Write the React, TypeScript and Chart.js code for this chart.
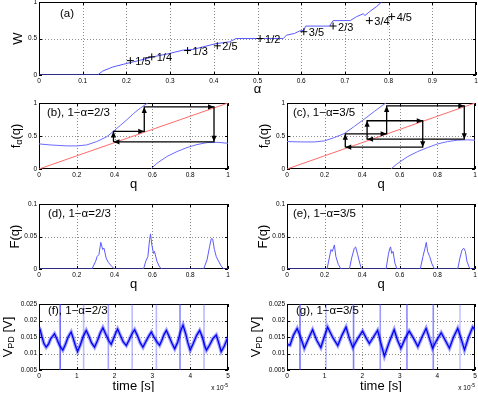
import React, { useEffect, useRef } from "react";
import { Chart, registerables } from "chart.js";
Chart.register(...registerables);

const FONT = "'Liberation Sans', Arial, Helvetica, sans-serif";

// ---------- (a) devil's staircase ----------
const alphaA = [0, 0.134, 0.146, 0.169, 0.199, 0.23, 0.26, 0.298, 0.329, 0.352, 0.375, 0.405, 0.436, 0.451, 0.559, 0.566, 0.585, 0.597, 0.606, 0.61, 0.665, 0.673, 0.712, 0.727, 0.742, 0.746, 0.757, 0.773, 0.784];
const wA = [0, 0, 0.055, 0.11, 0.156, 0.2, 0.248, 0.294, 0.34, 0.349, 0.385, 0.43, 0.454, 0.5, 0.5, 0.545, 0.57, 0.605, 0.61, 0.67, 0.67, 0.745, 0.745, 0.8, 0.838, 0.815, 0.87, 0.94, 1.0];
const fracAlpha = [0.209, 0.258, 0.34, 0.408, 0.506, 0.606, 0.673, 0.756, 0.807];
const fracW = [0.197, 0.248, 0.335, 0.4, 0.5, 0.593, 0.671, 0.745, 0.8];
const fracLabels = ["1/5", "1/4", "1/3", "2/5", "1/2", "3/5", "2/3", "3/4", "4/5"];
const ticksAx = [0, 0.1, 0.2, 0.3, 0.4, 0.5, 0.6, 0.7, 0.8, 0.9, 1];
const labelsAx = ["0", "0.1", "0.2", "0.3", "0.4", "0.5", "0.6", "0.7", "0.8", "0.9", "1"];
const ticksUnitY = [0, 0.5, 1];
const labelsUnitY = ["0", "0.5", "1"];

// ---------- (b) circle map, 1-a = 2/3 ----------
const qBleft = [0, 0.058, 0.147, 0.2, 0.253, 0.306, 0.359, 0.394, 0.43, 0.465, 0.5, 0.535, 0.575];
const fBleft = [0.38, 0.365, 0.35, 0.35, 0.365, 0.416, 0.49, 0.57, 0.66, 0.746, 0.84, 0.92, 1.0];
const qBright = [0.592, 0.624, 0.677, 0.73, 0.783, 0.836, 0.889, 0.942, 1.0];
const fBright = [0, 0.086, 0.19, 0.264, 0.325, 0.37, 0.4, 0.405, 0.39];
const cobBq = [0.394, 0.394, 0.557, 0.557, 0.926, 0.926, 0.394];
const cobBf = [0.411, 0.569, 0.569, 0.94, 0.94, 0.411, 0.411];

// ---------- (c) circle map, 1-a = 3/5 ----------
const qCleft = [0, 0.074, 0.145, 0.2, 0.252, 0.305, 0.358, 0.411, 0.465, 0.518, 0.527];
const fCleft = [0.416, 0.41, 0.41, 0.426, 0.477, 0.538, 0.645, 0.756, 0.873, 0.985, 1.0];
const qCright = [0.553, 0.589, 0.642, 0.695, 0.748, 0.801, 0.855, 0.908, 0.961, 1.0];
const fCright = [0, 0.086, 0.188, 0.264, 0.325, 0.38, 0.416, 0.437, 0.442, 0.437];
const cobCq = [0.31, 0.31, 0.53, 0.53, 0.943, 0.943, 0.426, 0.426, 0.722, 0.722, 0.31];
const cobCf = [0.33, 0.533, 0.533, 0.955, 0.955, 0.452, 0.452, 0.731, 0.731, 0.33, 0.33];
const diagQ = [0, 1];
const ticksQ = [0, 0.2, 0.4, 0.6, 0.8, 1];
const labelsQ = ["0", "0.2", "0.4", "0.6", "0.8", "1"];

// ---------- (d), (e) distributions ----------
const qD = [0, 0.28, 0.3, 0.307, 0.317, 0.327, 0.337, 0.344, 0.355, 0.367, 0.385, 0.4, 0.553, 0.565, 0.576, 0.585, 0.59, 0.597, 0.606, 0.611, 0.624, 0.638, 0.65, 0.871, 0.889, 0.903, 0.912, 0.919, 0.928, 0.938, 0.95, 0.963, 0.977, 1];
const FD = [0, 0, 0.012, 0.019, 0.022, 0.041, 0.03, 0.032, 0.017, 0.01, 0.004, 0, 0, 0.012, 0.019, 0.045, 0.054, 0.037, 0.024, 0.027, 0.012, 0.003, 0, 0, 0.014, 0.035, 0.047, 0.046, 0.03, 0.019, 0.012, 0.005, 0, 0];
const qE = [0, 0.213, 0.225, 0.234, 0.241, 0.252, 0.26, 0.273, 0.287, 0.332, 0.344, 0.358, 0.365, 0.376, 0.387, 0.397, 0.527, 0.539, 0.546, 0.551, 0.557, 0.564, 0.574, 0.585, 0.709, 0.723, 0.734, 0.741, 0.748, 0.759, 0.771, 0.784, 0.908, 0.92, 0.931, 0.94, 0.949, 0.957, 0.97, 0.979, 1];
const FE = [0, 0, 0.017, 0.03, 0.027, 0.037, 0.019, 0.007, 0, 0, 0.017, 0.032, 0.034, 0.022, 0.009, 0, 0, 0.022, 0.031, 0.034, 0.024, 0.027, 0.009, 0, 0, 0.019, 0.032, 0.041, 0.027, 0.019, 0.008, 0, 0, 0.017, 0.029, 0.032, 0.027, 0.012, 0.002, 0, 0];
const ticksF = [0, 0.05, 0.1];
const labelsF = ["0", "0.05", "0.1"];

// ---------- (f), (g) photodiode voltage (time in units of 1e-5 s) ----------
const tF = [0, 0.03, 0.08, 0.13, 0.19, 0.25, 0.31, 0.36, 0.41, 0.47, 0.54, 0.63, 0.7, 0.77, 0.85, 0.9, 0.96, 1.02, 1.09, 1.17, 1.25, 1.31, 1.39, 1.47, 1.55, 1.62, 1.69, 1.76, 1.84, 1.91, 1.98, 2.03, 2.08, 2.15, 2.23, 2.31, 2.38, 2.46, 2.53, 2.6, 2.68, 2.75, 2.82, 2.9, 2.97, 3.04, 3.12, 3.19, 3.25, 3.31, 3.37, 3.44, 3.52, 3.59, 3.67, 3.74, 3.81, 3.88, 3.94, 4.0, 4.08, 4.17, 4.25, 4.32, 4.38, 4.43, 4.51, 4.6, 4.69, 4.76, 4.82, 4.9, 5.0];
const vF = [0.018, 0.0172, 0.015, 0.013, 0.0119, 0.0128, 0.0145, 0.0152, 0.016, 0.0145, 0.0125, 0.011, 0.0128, 0.015, 0.0165, 0.0148, 0.0125, 0.0106, 0.0125, 0.0152, 0.017, 0.0155, 0.0132, 0.0119, 0.014, 0.0162, 0.0178, 0.016, 0.014, 0.0128, 0.0148, 0.0162, 0.0174, 0.0155, 0.0135, 0.0124, 0.014, 0.016, 0.0172, 0.0155, 0.0132, 0.0119, 0.0135, 0.0152, 0.0165, 0.015, 0.0135, 0.0125, 0.014, 0.0158, 0.017, 0.0152, 0.013, 0.0114, 0.0135, 0.0165, 0.0186, 0.016, 0.0132, 0.011, 0.013, 0.0155, 0.017, 0.015, 0.0125, 0.011, 0.0125, 0.0145, 0.0156, 0.013, 0.0106, 0.0122, 0.015];
const tG = [0, 0.08, 0.17, 0.27, 0.36, 0.46, 0.57, 0.68, 0.79, 0.9, 0.99, 1.08, 1.21, 1.35, 1.46, 1.57, 1.66, 1.75, 1.88, 2.01, 2.1, 2.19, 2.3, 2.41, 2.5, 2.59, 2.72, 2.85, 2.94, 3.03, 3.14, 3.25, 3.37, 3.48, 3.59, 3.7, 3.79, 3.87, 3.98, 4.1, 4.21, 4.32, 4.43, 4.54, 4.63, 4.72, 4.83, 4.94, 5.0];
const vG = [0.0128, 0.0125, 0.0155, 0.0176, 0.015, 0.0116, 0.0145, 0.0172, 0.014, 0.0118, 0.015, 0.018, 0.015, 0.0124, 0.0155, 0.018, 0.0145, 0.0118, 0.0145, 0.0168, 0.0148, 0.013, 0.015, 0.017, 0.013, 0.0092, 0.0135, 0.0172, 0.014, 0.0116, 0.0145, 0.0168, 0.0145, 0.0121, 0.015, 0.0176, 0.0145, 0.0116, 0.014, 0.0163, 0.014, 0.0116, 0.015, 0.0176, 0.0145, 0.0111, 0.015, 0.018, 0.0172];
const markF = [0.56, 1.18, 1.835, 2.465, 3.105, 3.73, 4.365];
const markG = [0.346, 1.04, 1.77, 2.48, 3.19, 3.89, 4.6];
const ticksT = [0, 1, 2, 3, 4, 5];
const labelsT = ["0", "1", "2", "3", "4", "5"];
const ticksV = [0.005, 0.01, 0.015, 0.02, 0.025];
const labelsV = ["0.005", "0.01", "0.015", "0.02", "0.025"];

// styles (not data)
const markAlphaF = [0.75, 0.35, 0.45, 0.35, 0.35, 0.6, 0.35];
const markAlphaG = [0.7, 0.3, 0.65, 0.5, 0.6, 0.6, 0.3];

const zip = (xs: number[], ys: number[]) => xs.map((x, i) => ({ x, y: ys[i] }));

type Geo = { l: number; t: number; r: number; b: number };
type Seg = { t: string; sub?: boolean };
type Spec = {
  geo: Geo;
  datasets: any[];
  x: [number, number];
  y: [number, number];
  xt: number[]; xl: string[]; yt: number[]; yl: string[];
  xTitle: string; xTitleDy: number;
  yTitle: Seg[]; yTitleDx: number;
  label: string; labelDx: number; labelDy: number;
  extra?: (chart: any) => void;
  exponent?: boolean;
};

const YW = 39, XH = 22, PT = 6, PR = 6;

const line = (data: any[], color: string, width = 1) => ({
  data, borderColor: color, borderWidth: width, pointRadius: 0, fill: false, tension: 0,
});

function drawArrows(chart: any, qs: number[], fs: number[]) {
  const { ctx, scales: { x, y } } = chart;
  ctx.save();
  ctx.fillStyle = "#000";
  for (let i = 0; i < qs.length - 1; i++) {
    const x0 = x.getPixelForValue(qs[i]), y0 = y.getPixelForValue(fs[i]);
    const x1 = x.getPixelForValue(qs[i + 1]), y1 = y.getPixelForValue(fs[i + 1]);
    const a = Math.atan2(y1 - y0, x1 - x0);
    const L = 6, W = 2.6;
    const c = Math.cos(a), s = Math.sin(a);
    ctx.beginPath();
    ctx.moveTo(x1, y1);
    ctx.lineTo(x1 - L * c + W * s, y1 - L * s - W * c);
    ctx.lineTo(x1 - L * c - W * s, y1 - L * s + W * c);
    ctx.closePath();
    ctx.fill();
  }
  ctx.restore();
}

function framePlugin(p: Spec) {
  return {
    id: "matlabFrame",
    beforeDatasetsDraw(chart: any) {
      const { ctx, chartArea: a, scales: { x, y } } = chart;
      ctx.save();
      ctx.lineWidth = 1;
      ctx.strokeStyle = "rgba(0,0,0,0.45)";
      ctx.setLineDash([1, 2]);
      for (const v of p.xt) {
        if (v === p.x[0] || v === p.x[1]) continue;
        const px = Math.round(x.getPixelForValue(v)) + 0.5;
        ctx.beginPath(); ctx.moveTo(px, a.top); ctx.lineTo(px, a.bottom); ctx.stroke();
      }
      for (const v of p.yt) {
        if (v === p.y[0] || v === p.y[1]) continue;
        const py = Math.round(y.getPixelForValue(v)) + 0.5;
        ctx.beginPath(); ctx.moveTo(a.left, py); ctx.lineTo(a.right, py); ctx.stroke();
      }
      ctx.setLineDash([]);
      ctx.strokeStyle = "#000";
      ctx.strokeRect(Math.round(a.left) + 0.5, Math.round(a.top) + 0.5, Math.round(a.right - a.left) - 1, Math.round(a.bottom - a.top) - 1);
      const T = 3;
      ctx.beginPath();
      for (const v of p.xt) {
        const px = Math.round(x.getPixelForValue(v)) + 0.5;
        ctx.moveTo(px, a.bottom); ctx.lineTo(px, a.bottom - T);
        ctx.moveTo(px, a.top); ctx.lineTo(px, a.top + T);
      }
      for (const v of p.yt) {
        const py = Math.round(y.getPixelForValue(v)) + 0.5;
        ctx.moveTo(a.left, py); ctx.lineTo(a.left + T, py);
        ctx.moveTo(a.right, py); ctx.lineTo(a.right - T, py);
      }
      ctx.stroke();
      ctx.restore();
    },
    afterDatasetsDraw(chart: any) {
      const { ctx, chartArea: a } = chart;
      if (p.extra) p.extra(chart);
      ctx.save();
      ctx.fillStyle = "#000";
      ctx.font = `11.5px ${FONT}`;
      ctx.textAlign = "left";
      ctx.textBaseline = "middle";
      ctx.fillText(p.label, a.left + p.labelDx, a.top + p.labelDy);
      ctx.restore();
    },
    afterDraw(chart: any) {
      const { ctx, chartArea: a } = chart;
      ctx.save();
      ctx.fillStyle = "#000";
      ctx.font = `13px ${FONT}`;
      ctx.textAlign = "center";
      ctx.textBaseline = "middle";
      ctx.fillText(p.xTitle, (a.left + a.right) / 2, a.bottom + p.xTitleDy);
      ctx.translate(a.left + p.yTitleDx, (a.top + a.bottom) / 2);
      ctx.rotate(-Math.PI / 2);
      ctx.textAlign = "left";
      const widths = p.yTitle.map((s) => { ctx.font = `${s.sub ? 9 : 13}px ${FONT}`; return ctx.measureText(s.t).width; });
      let xx = -widths.reduce((u, v) => u + v, 0) / 2;
      p.yTitle.forEach((s, i) => {
        ctx.font = `${s.sub ? 9 : 13}px ${FONT}`;
        ctx.fillText(s.t, xx, s.sub ? 4 : 0);
        xx += widths[i];
      });
      ctx.restore();
      if (p.exponent) {
        ctx.save();
        ctx.fillStyle = "#000";
        ctx.textBaseline = "alphabetic";
        ctx.textAlign = "left";
        ctx.font = `6.5px ${FONT}`;
        const w1 = ctx.measureText("x 10").width;
        ctx.font = `5px ${FONT}`;
        const w2 = ctx.measureText("-5").width;
        const x0 = a.right - w1 - w2, y0 = a.bottom + 20;
        ctx.font = `6.5px ${FONT}`;
        ctx.fillText("x 10", x0, y0);
        ctx.font = `5px ${FONT}`;
        ctx.fillText("-5", x0 + w1, y0 - 3);
        ctx.restore();
      }
    },
  };
}

function makeConfig(p: Spec) {
  const tickFont = { family: FONT, size: 6.5 };
  return {
    type: "line",
    data: { datasets: p.datasets },
    options: {
      responsive: false,
      animation: false,
      devicePixelRatio: 1,
      layout: { padding: { top: PT, right: PR, left: 0, bottom: 0 } },
      plugins: { legend: { display: false }, tooltip: { enabled: false } },
      scales: {
        x: {
          type: "linear", min: p.x[0], max: p.x[1],
          grid: { display: false, drawTicks: false }, border: { display: false },
          afterBuildTicks: (s: any) => { s.ticks = p.xt.map((v) => ({ value: v })); },
          afterFit: (s: any) => { s.height = XH; },
          ticks: { autoSkip: false, maxRotation: 0, padding: 2, font: tickFont, color: "#000", callback: (_v: any, i: number) => p.xl[i] },
        },
        y: {
          type: "linear", min: p.y[0], max: p.y[1],
          grid: { display: false, drawTicks: false }, border: { display: false },
          afterBuildTicks: (s: any) => { s.ticks = p.yt.map((v) => ({ value: v })); },
          afterFit: (s: any) => { s.width = YW; },
          ticks: { autoSkip: false, padding: 2, font: tickFont, color: "#000", callback: (_v: any, i: number) => p.yl[i] },
        },
      },
    },
    plugins: [framePlugin(p)],
  } as any;
}

function Panel({ spec }: { spec: Spec }) {
  const ref = useRef<HTMLCanvasElement>(null);
  useEffect(() => {
    const chart = new Chart(ref.current as HTMLCanvasElement, makeConfig(spec));
    return () => chart.destroy();
  }, []);
  const g = spec.geo;
  const left = g.l - YW, top = g.t - PT;
  const w = g.r + PR - left, h = g.b + XH - top;
  return <canvas ref={ref} width={w} height={h} style={{ position: "absolute", left, top, width: w, height: h }} />;
}

const BLUE = "#5a5aff";
const fTitle: Seg[] = [{ t: "f" }, { t: "α", sub: true }, { t: "(q)" }];
const vTitle: Seg[] = [{ t: "V" }, { t: "PD", sub: true }, { t: " [V]" }];

const specA: Spec = {
  geo: { l: 39, t: 2, r: 476, b: 75 },
  datasets: [
    { data: zip(fracAlpha, fracW), showLine: false, pointStyle: "cross", pointRadius: 3.5, borderColor: "#000", borderWidth: 1 },
    line(zip(alphaA, wA), BLUE, 1),
  ],
  x: [0, 1], y: [0, 1], xt: ticksAx, xl: labelsAx, yt: ticksUnitY, yl: labelsUnitY,
  xTitle: "α", xTitleDy: 14, yTitle: [{ t: "W" }], yTitleDx: -21,
  label: "(a)", labelDx: 21, labelDy: 12,
  extra: (chart: any) => {
    const { ctx, scales: { x, y } } = chart;
    ctx.save();
    ctx.fillStyle = "#000";
    ctx.font = `11px ${FONT}`;
    ctx.textAlign = "left";
    ctx.textBaseline = "middle";
    fracLabels.forEach((s, i) => ctx.fillText(s, x.getPixelForValue(fracAlpha[i]) + 5, y.getPixelForValue(fracW[i]) + 1.5));
    ctx.restore();
  },
};

const mapSpec = (geo: Geo, label: string, ql: number[], fl: number[], qr: number[], fr: number[], cq: number[], cf: number[], ldx: number): Spec => ({
  geo,
  datasets: [
    line(zip(cq, cf), "#000", 1.3),
    line(zip(ql, fl), "#6b6bff", 1),
    line(zip(qr, fr), "#6b6bff", 1),
    line(zip(diagQ, diagQ), "#ff6b6b", 1),
  ],
  x: [0, 1], y: [0, 1], xt: ticksQ, xl: labelsQ, yt: ticksUnitY, yl: labelsUnitY,
  xTitle: "q", xTitleDy: 15, yTitle: fTitle, yTitleDx: -23,
  label, labelDx: ldx, labelDy: 9.5,
  extra: (chart: any) => drawArrows(chart, cq, cf),
});

const specB = mapSpec({ l: 39, t: 103, r: 228, b: 169 }, "(b), 1−α=2/3", qBleft, fBleft, qBright, fBright, cobBq, cobBf, 8);
const specC = mapSpec({ l: 287, t: 103, r: 475, b: 169 }, "(c), 1−α=3/5", qCleft, fCleft, qCright, fCright, cobCq, cobCf, 6);

const distSpec = (geo: Geo, label: string, q: number[], F: number[], ldx: number): Spec => ({
  geo,
  datasets: [line(zip(q, F), BLUE, 1)],
  x: [0, 1], y: [0, 0.1], xt: ticksQ, xl: labelsQ, yt: ticksF, yl: labelsF,
  xTitle: "q", xTitleDy: 15, yTitle: [{ t: "F(q)" }], yTitleDx: -24,
  label, labelDx: ldx, labelDy: 10,
});

const specD = distSpec({ l: 39, t: 204, r: 228, b: 269 }, "(d), 1−α=2/3", qD, FD, 9);
const specE = distSpec({ l: 287, t: 204, r: 475, b: 269 }, "(e), 1−α=3/5", qE, FE, 6);

const timeSpec = (geo: Geo, label: string, t: number[], v: number[], marks: number[], alphas: number[]): Spec => ({
  geo,
  datasets: [
    line(zip(t, v), "rgb(0,0,245)", 1.3),
    line(zip(t, v), "rgba(0,0,255,0.38)", 3.6),
    ...marks.map((m, i) => line(zip([m, m], [0.005, 0.025]), `rgba(60,60,255,${alphas[i]})`, 1.6)),
  ],
  x: [0, 5], y: [0.005, 0.025], xt: ticksT, xl: labelsT, yt: ticksV, yl: labelsV,
  xTitle: "time [s]", xTitleDy: 16, yTitle: vTitle, yTitleDx: -31,
  label, labelDx: 9, labelDy: 7,
  exponent: true,
});

const specF = timeSpec({ l: 39, t: 304, r: 228, b: 370 }, "(f), 1−α=2/3", tF, vF, markF, markAlphaF);
const specG = timeSpec({ l: 287, t: 304, r: 475, b: 370 }, "(g), 1−α=3/5", tG, vG, markG, markAlphaG);

export default function App() {
  return (
    <div style={{ position: "fixed", left: 0, top: 0, width: 478, height: 394, overflow: "hidden", background: "#fff" }}>
      {[specA, specB, specC, specD, specE, specF, specG].map((s, i) => (
        <Panel key={i} spec={s} />
      ))}
    </div>
  );
}
